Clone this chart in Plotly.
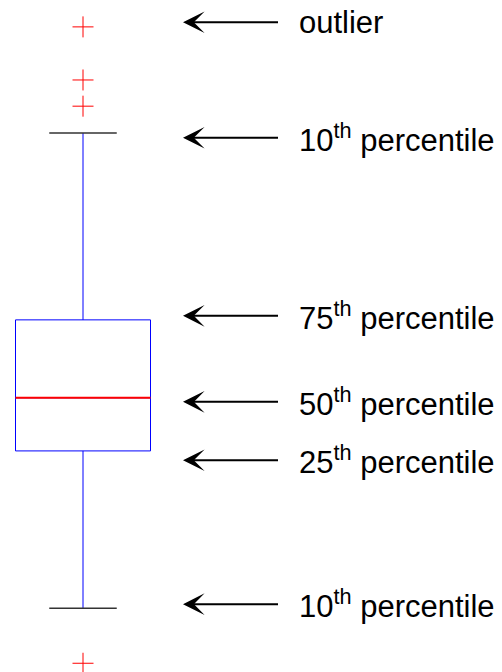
import plotly.graph_objects as go

# --- box statistics (arbitrary 0-100 scale) ---
box_x = 83
box_width = 135
lower_fence = 9.5
q1 = 32.9
median = 40.8
q3 = 52.4
upper_fence = 80.2
outliers = [96.0, 88.1, 84.2, 1.3]

# --- labels and where their arrows point ---
labels = [
    "outlier",
    "10<sup>th</sup> percentile",
    "75<sup>th</sup> percentile",
    "50<sup>th</sup> percentile",
    "25<sup>th</sup> percentile",
    "10<sup>th</sup> percentile",
]
label_y = [96.7, 79.5, 53.0, 40.2, 31.5, 10.1]

arrow_tip_x = 183
arrow_tail_x = 278
text_x = 297
cap_fraction = 0.5

fig = go.Figure()

# main box, whiskers drawn without caps (caps added in black below)
fig.add_trace(go.Box(
    x=[box_x],
    q1=[q1], median=[median], q3=[q3],
    lowerfence=[lower_fence], upperfence=[upper_fence],
    width=box_width,
    whiskerwidth=0,
    line=dict(color="#0000ff", width=1),
    fillcolor="rgba(255,255,255,0)",
    boxpoints=False,
    hoverinfo="skip",
))

# black whisker caps
cap_half = box_width * cap_fraction / 2
for fence in [upper_fence, lower_fence]:
    fig.add_trace(go.Scatter(
        x=[box_x - cap_half, box_x + cap_half],
        y=[fence, fence],
        mode="lines",
        line=dict(color="#333333", width=1.5),
        hoverinfo="skip",
    ))

# outliers
fig.add_trace(go.Scatter(
    x=[box_x] * len(outliers),
    y=outliers,
    mode="markers",
    marker=dict(symbol="cross-thin", size=15, line=dict(color="#ff0000", width=1)),
    hoverinfo="skip",
))

# red median line, as a shape so it covers the box's own (blue) median
fig.add_shape(
    type="line", layer="above",
    x0=box_x - box_width / 2, x1=box_x + box_width / 2,
    y0=median, y1=median,
    line=dict(color="#ff0000", width=2),
)

annotations = []
for txt, yy in zip(labels, label_y):
    annotations.append(dict(
        x=arrow_tip_x, y=yy, ax=text_x, ay=yy,
        xref="x", yref="y", axref="x", ayref="y",
        text=txt, showarrow=True,
        xanchor="left", yanchor="middle",
        startstandoff=text_x - arrow_tail_x,
        arrowhead=3, arrowsize=1.8, arrowwidth=2, arrowcolor="black",
        font=dict(family="Liberation Sans, Arial, sans-serif", size=31, color="black"),
    ))

fig.update_layout(
    width=502, height=672,
    margin=dict(l=0, r=0, t=0, b=0),
    paper_bgcolor="white", plot_bgcolor="white",
    showlegend=False,
    annotations=annotations,
    xaxis=dict(range=[0, 502], visible=False, fixedrange=True),
    yaxis=dict(range=[0, 100], visible=False, fixedrange=True),
)

# drop the page's default 8px body margin so the figure fills the window
fig.write_html(
    "out.html",
    config={"displayModeBar": False},
    post_script="document.body.style.margin='0';",
)
